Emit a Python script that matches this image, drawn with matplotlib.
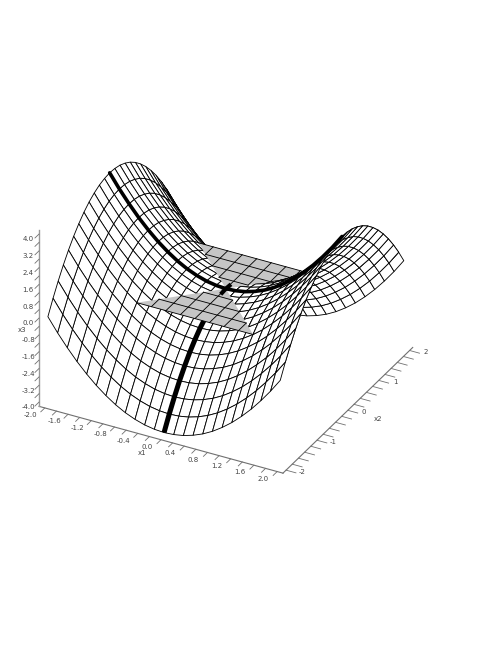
import matplotlib
matplotlib.use("Agg")
import matplotlib.pyplot as plt
import numpy as np
from mpl_toolkits.mplot3d import proj3d
from mpl_toolkits.mplot3d.art3d import Poly3DCollection

# grid, 24 cells each way
x1_grid = np.linspace(-2, 2, 25)
x2_grid = np.linspace(-2, 2, 25)

# x3 for x1 = -2..0 (rows), x2 = -2..0 (cols), other quadrants mirror it
x3_quadrant = np.array([
    [0.00, 0.64, 1.22, 1.75, 2.22, 2.64, 3.00, 3.31, 3.56, 3.75, 3.89, 3.97, 4.00],
    [-0.64, 0.00, 0.58, 1.11, 1.58, 2.00, 2.36, 2.67, 2.92, 3.11, 3.25, 3.33, 3.36],
    [-1.22, -0.58, 0.00, 0.53, 1.00, 1.42, 1.78, 2.09, 2.34, 2.53, 2.67, 2.75, 2.78],
    [-1.75, -1.11, -0.53, 0.00, 0.47, 0.89, 1.25, 1.56, 1.81, 2.00, 2.14, 2.22, 2.25],
    [-2.22, -1.58, -1.00, -0.47, 0.00, 0.42, 0.78, 1.09, 1.34, 1.53, 1.67, 1.75, 1.78],
    [-2.64, -2.00, -1.42, -0.89, -0.42, 0.00, 0.36, 0.67, 0.92, 1.11, 1.25, 1.33, 1.36],
    [-3.00, -2.36, -1.78, -1.25, -0.78, -0.36, 0.00, 0.31, 0.56, 0.75, 0.89, 0.97, 1.00],
    [-3.31, -2.67, -2.09, -1.56, -1.09, -0.67, -0.31, 0.00, 0.25, 0.44, 0.58, 0.66, 0.69],
    [-3.56, -2.92, -2.34, -1.81, -1.34, -0.92, -0.56, -0.25, 0.00, 0.19, 0.33, 0.41, 0.44],
    [-3.75, -3.11, -2.53, -2.00, -1.53, -1.11, -0.75, -0.44, -0.19, 0.00, 0.14, 0.22, 0.25],
    [-3.89, -3.25, -2.67, -2.14, -1.67, -1.25, -0.89, -0.58, -0.33, -0.14, 0.00, 0.08, 0.11],
    [-3.97, -3.33, -2.75, -2.22, -1.75, -1.33, -0.97, -0.66, -0.41, -0.22, -0.08, 0.00, 0.03],
    [-4.00, -3.36, -2.78, -2.25, -1.78, -1.36, -1.00, -0.69, -0.44, -0.25, -0.11, -0.03, 0.00],
])
x3_half = np.hstack([x3_quadrant, x3_quadrant[:, -2::-1]])
x3_surface = np.vstack([x3_half, x3_half[-2::-1]])

# the flat grey patch at x3 = 0
plane_grid = np.array([-1.0, -0.75, -0.5, -0.25, 0.0, 0.25, 0.5, 0.75, 1.0])

x1_ticks = np.arange(-10, 11) / 5
x1_labels = np.array([-2.0, -1.6, -1.2, -0.8, -0.4, 0.0, 0.4, 0.8, 1.2, 1.6, 2.0])
x2_ticks = np.arange(-10, 11) / 5
x2_labels = np.array([-2, -1, 0, 1, 2])
x3_ticks = np.arange(-10, 11) * 0.4
x3_labels = np.array([-4.0, -3.2, -2.4, -1.6, -0.8, 0.0, 0.8, 1.6, 2.4, 3.2, 4.0])

AX1, AX2, AX3 = -2.1, -2.1, -4.2
GREY = "#c6c6c6"
AXC = "#707070"
TXT = "#444444"
LW = 0.62

fig = plt.figure(figsize=(4.98, 6.45), dpi=100)
ax = fig.add_axes([-0.060, 0.042, 1, 1], projection="3d", computed_zorder=False,
                  proj_type="ortho")
ax.view_init(elev=31, azim=-62)
ax.set_xlim(-2, 2)
ax.set_ylim(-2, 2)
ax.set_zlim(-4, 4)
ax.set_box_aspect((1, 1, 0.745), zoom=0.82)
ax.set_axis_off()
ax.apply_aspect()


def cells(keep):
    polys = []
    for i in range(len(x1_grid) - 1):
        for j in range(len(x2_grid) - 1):
            a, b = x1_grid[i], x1_grid[i + 1]
            c, d = x2_grid[j], x2_grid[j + 1]
            if keep((a + b) / 2, (c + d) / 2):
                polys.append([(a, c, x3_surface[i, j]), (b, c, x3_surface[i + 1, j]),
                              (b, d, x3_surface[i + 1, j + 1]), (a, d, x3_surface[i, j + 1])])
    return polys


def mesh(keep, z):
    ax.add_collection3d(Poly3DCollection(cells(keep), facecolors="white", edgecolors="black",
                                         linewidths=LW, zorder=z))


def wedge(sign, z):
    ax.add_collection3d(Poly3DCollection([[(-1, sign, 0), (1, sign, 0), (0, 0, 0)]],
                                         facecolors=GREY, edgecolors="none", zorder=z))
    for c in plane_grid:
        if c * sign > 0:
            ax.plot([-abs(c), abs(c)], [c, c], [0, 0], color="black", lw=LW, zorder=z + 0.1)
        ax.plot([c, c], [sign * abs(c), sign], [0, 0], color="black", lw=LW, zorder=z + 0.1)


def label(x, y, z, s):
    # 2d text at the projected spot
    px, py, _ = proj3d.proj_transform(x, y, z, ax.get_proj())
    ax.text2D(px, py, s, transform=ax.transData, ha="center", va="center", fontsize=5,
              color=TXT, zorder=8)


# back to front by hand, the surface and the patch cut through each other
mesh(lambda a, b: True, 1)
wedge(1, 2)
mesh(lambda a, b: a > abs(b), 3)
# this heavy line runs on under the front patch
ax.plot(np.zeros(13), x2_grid[:13], x3_surface[12, :13], color="black", lw=3.6, zorder=3.5,
        solid_capstyle="butt")
wedge(-1, 4)

# heavy lines
ax.plot(x1_grid, np.zeros(25), x3_surface[:, 12], color="black", lw=2.6, zorder=6,
        solid_capstyle="round")
ax.plot(np.zeros(3), x2_grid[11:14], x3_surface[12, 11:14], color="black", lw=3.0, zorder=6,
        solid_capstyle="butt")

# axes drawn by hand, the original has no panes
ax.plot([AX1, -AX1], [AX2, AX2], [AX3, AX3], color=AXC, lw=0.8, zorder=7)
ax.plot([-AX1, -AX1], [AX2, -AX2], [AX3, AX3], color=AXC, lw=0.8, zorder=7)
ax.plot([AX1, AX1], [AX2, AX2], [AX3, -AX3], color="#999999", lw=1.0, zorder=7)
for t in x1_ticks:
    ax.plot([t, t], [AX2, AX2 - 0.13], [AX3, AX3], color=AXC, lw=0.6, zorder=7)
for t in x2_ticks:
    ax.plot([-AX1, -AX1 + 0.17], [t, t], [AX3, AX3], color=AXC, lw=0.6, zorder=7)
for t in x3_ticks[(x3_ticks >= -4) & (x3_ticks <= 4)]:
    ax.plot([AX1, AX1], [AX2, AX2 - 0.13], [t, t], color=AXC, lw=0.6, zorder=7)

for t in x1_labels:
    label(t, AX2 - 0.45, AX3 + 0.3, f"{t:.1f}")
for t in x2_labels:
    label(-AX1 + 0.28, t, AX3 + 0.12, str(t))
for t in x3_labels:
    label(AX1, AX2 - 0.35, t + 0.25, f"{t:.1f}")
label(0.08, AX2 - 0.75, AX3 + 0.5, "x1")
label(-AX1 + 0.52, 0, AX3, "x2")
label(AX1, AX2 - 0.55, 0.22, "x3")

fig.savefig("out.png", dpi=100)
